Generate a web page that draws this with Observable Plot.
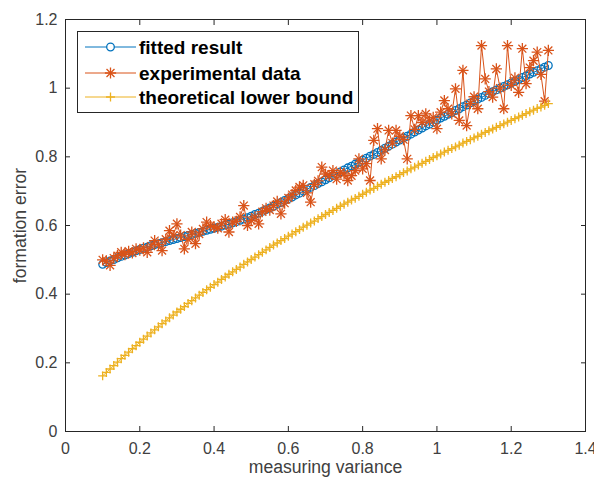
<!DOCTYPE html>
<html>
<head>
<meta charset="utf-8">
<script src="https://cdn.jsdelivr.net/npm/d3@7"></script>
<script src="https://cdn.jsdelivr.net/npm/@observablehq/plot@0.6"></script>
<style>
  body { margin: 0; background: #fff; }
  #chart { width: 594px; height: 484px; }
</style>
</head>
<body>
<div id="chart"></div>
<script>
// ---- data ----
const xValues = [
  0.10,0.11,0.12,0.13,0.14,0.15,0.16,0.17,0.18,0.19,
  0.20,0.21,0.22,0.23,0.24,0.25,0.26,0.27,0.28,0.29,
  0.30,0.31,0.32,0.33,0.34,0.35,0.36,0.37,0.38,0.39,
  0.40,0.41,0.42,0.43,0.44,0.45,0.46,0.47,0.48,0.49,
  0.50,0.51,0.52,0.53,0.54,0.55,0.56,0.57,0.58,0.59,
  0.60,0.61,0.62,0.63,0.64,0.65,0.66,0.67,0.68,0.69,
  0.70,0.71,0.72,0.73,0.74,0.75,0.76,0.77,0.78,0.79,
  0.80,0.81,0.82,0.83,0.84,0.85,0.86,0.87,0.88,0.89,
  0.90,0.91,0.92,0.93,0.94,0.95,0.96,0.97,0.98,0.99,
  1.00,1.01,1.02,1.03,1.04,1.05,1.06,1.07,1.08,1.09,
  1.10,1.11,1.12,1.13,1.14,1.15,1.16,1.17,1.18,1.19,
  1.20,1.21,1.22,1.23,1.24,1.25,1.26,1.27,1.28,1.29,
  1.30
];
const fittedResult = [
  0.487,0.492,0.497,0.501,0.506,0.510,0.514,0.518,0.522,0.526,
  0.530,0.534,0.537,0.541,0.544,0.547,0.550,0.553,0.556,0.559,
  0.562,0.565,0.568,0.571,0.574,0.577,0.580,0.583,0.586,0.589,
  0.592,0.595,0.598,0.601,0.604,0.608,0.611,0.615,0.619,0.623,
  0.627,0.632,0.636,0.641,0.646,0.651,0.656,0.662,0.667,0.673,
  0.678,0.683,0.689,0.694,0.700,0.705,0.711,0.716,0.722,0.727,
  0.733,0.739,0.745,0.750,0.756,0.762,0.768,0.773,0.779,0.784,
  0.790,0.796,0.802,0.807,0.813,0.819,0.825,0.831,0.837,0.843,
  0.849,0.855,0.860,0.866,0.872,0.878,0.884,0.890,0.895,0.901,
  0.907,0.913,0.918,0.924,0.929,0.935,0.940,0.946,0.951,0.957,
  0.962,0.968,0.973,0.979,0.984,0.990,0.995,1.000,1.005,1.010,
  1.015,1.020,1.025,1.031,1.036,1.041,1.046,1.051,1.056,1.061,
  1.066
];
const experimentalData = [
  0.500,0.497,0.484,0.505,0.512,0.522,0.515,0.525,0.520,0.532,
  0.528,0.535,0.522,0.540,0.556,0.545,0.527,0.560,0.585,0.570,
  0.605,0.572,0.532,0.560,0.581,0.547,0.575,0.590,0.610,0.600,
  0.595,0.592,0.605,0.617,0.581,0.610,0.612,0.625,0.658,0.600,
  0.615,0.625,0.605,0.640,0.650,0.645,0.658,0.670,0.634,0.665,
  0.680,0.690,0.702,0.712,0.717,0.695,0.668,0.720,0.730,0.770,
  0.750,0.745,0.760,0.735,0.755,0.750,0.731,0.745,0.760,0.794,
  0.765,0.780,0.731,0.848,0.882,0.794,0.820,0.877,0.840,0.877,
  0.860,0.850,0.794,0.920,0.880,0.920,0.900,0.925,0.905,0.915,
  0.882,0.930,0.964,0.940,0.925,0.998,0.906,1.052,0.891,0.955,
  0.975,0.940,1.124,1.027,0.990,0.974,1.056,1.000,0.940,1.124,
  1.008,1.030,0.988,1.115,1.013,1.060,1.080,1.105,1.040,0.962,
  1.110
];
const lowerBound = [
  0.162,0.172,0.182,0.192,0.202,0.212,0.222,0.231,0.241,0.250,
  0.260,0.269,0.278,0.287,0.296,0.305,0.314,0.322,0.331,0.339,
  0.348,0.356,0.364,0.373,0.381,0.389,0.397,0.405,0.413,0.420,
  0.428,0.435,0.443,0.450,0.458,0.465,0.472,0.479,0.487,0.494,
  0.501,0.508,0.515,0.522,0.529,0.536,0.543,0.549,0.556,0.562,
  0.569,0.575,0.582,0.588,0.595,0.601,0.607,0.613,0.620,0.626,
  0.632,0.638,0.644,0.650,0.656,0.662,0.668,0.674,0.679,0.685,
  0.691,0.697,0.703,0.708,0.714,0.720,0.726,0.731,0.737,0.742,
  0.748,0.754,0.759,0.765,0.770,0.776,0.781,0.787,0.792,0.798,
  0.803,0.808,0.814,0.819,0.824,0.829,0.834,0.840,0.845,0.850,
  0.855,0.860,0.866,0.871,0.876,0.881,0.886,0.891,0.896,0.901,
  0.906,0.911,0.916,0.921,0.926,0.931,0.936,0.941,0.945,0.950,
  0.955
];
const seriesNames = ["fitted result", "experimental data", "theoretical lower bound"];
const xTicks = [0, 0.2, 0.4, 0.6, 0.8, 1, 1.2, 1.4];
const xTickLabels = ["0", "0.2", "0.4", "0.6", "0.8", "1", "1.2", "1.4"];
const yTicks = [0, 0.2, 0.4, 0.6, 0.8, 1, 1.2];
const yTickLabels = ["0", "0.2", "0.4", "0.6", "0.8", "1", "1.2"];
const xLabel = "measuring variance";
const yLabel = "formation error";

// ---- styles ----
const colors = ["#0072BD", "#D95319", "#EDB120"];
const axisColor = "#262626";
const textColor = "#404040";
const font = "'Liberation Sans', Arial, Helvetica, sans-serif";
const rFit = 3.8, rExp = 3.7, rLow = 3.0, markerStroke = 1.3;

const data = xValues.map((x, i) => ({
  x, fit: fittedResult[i], exp: experimentalData[i], low: lowerBound[i]
}));

const plot = Plot.plot({
  width: 594,
  height: 484,
  marginLeft: 65,
  marginRight: 9,
  marginTop: 19,
  marginBottom: 53,
  style: { fontFamily: font, fontSize: "16px", color: textColor, background: "#fff" },
  x: { domain: [0, 1.4] },
  y: { domain: [0, 1.2] },
  marks: [
    // series 1: fitted result
    Plot.line(data, { x: "x", y: "fit", stroke: colors[0], strokeWidth: 1 }),
    Plot.dot(data, { x: "x", y: "fit", symbol: "circle", r: rFit, stroke: colors[0], fill: "none", strokeWidth: markerStroke }),
    // series 2: experimental data (asterisk = plus + times)
    Plot.line(data, { x: "x", y: "exp", stroke: colors[1], strokeWidth: 1 }),
    Plot.dot(data, { x: "x", y: "exp", symbol: "plus", r: rExp, stroke: colors[1], strokeWidth: markerStroke }),
    Plot.dot(data, { x: "x", y: "exp", symbol: "times", r: rExp, stroke: colors[1], strokeWidth: markerStroke }),
    // series 3: theoretical lower bound
    Plot.line(data, { x: "x", y: "low", stroke: colors[2], strokeWidth: 1 }),
    Plot.dot(data, { x: "x", y: "low", symbol: "plus", r: rLow, stroke: colors[2], strokeWidth: markerStroke }),
    // box
    Plot.frame({ stroke: axisColor, strokeWidth: 1 }),
    // inward ticks on all four sides
    Plot.axisX(xTicks, { anchor: "bottom", tickSize: -5, fill: "none", label: null, stroke: axisColor }),
    Plot.axisX(xTicks, { anchor: "top", tickSize: -5, fill: "none", label: null, stroke: axisColor }),
    Plot.axisY(yTicks, { anchor: "left", tickSize: -5, fill: "none", label: null, stroke: axisColor }),
    Plot.axisY(yTicks, { anchor: "right", tickSize: -5, fill: "none", label: null, stroke: axisColor }),
    // tick labels and axis titles
    Plot.axisX(xTicks, {
      anchor: "bottom", tickSize: 0, tickPadding: 11, fontSize: 16,
      tickFormat: d => xTickLabels[xTicks.indexOf(d)],
      label: xLabel, labelAnchor: "center", labelArrow: "none", labelOffset: 41
    }),
    Plot.axisY(yTicks, {
      anchor: "left", tickSize: 0, tickPadding: 8, fontSize: 16,
      tickFormat: d => yTickLabels[yTicks.indexOf(d)],
      label: yLabel, labelAnchor: "center", labelArrow: "none", labelOffset: 52
    })
  ]
});

// larger axis titles
d3.select(plot).selectAll("g[aria-label='x-axis label'] text, g[aria-label='y-axis label'] text")
  .attr("font-size", 17.6);

// ---- legend (inside the axes, top-left) ----
const svg = d3.select(plot);
const lg = svg.append("g").attr("aria-label", "legend").attr("text-anchor", "start");
const box = { x: 77, y: 31, w: 281, h: 81 };
const rowY = [47, 73, 97];
const lineX0 = 85, lineX1 = 136, markX = 110.5, textX = 139;
lg.append("rect").attr("x", box.x + 0.5).attr("y", box.y + 0.5)
  .attr("width", box.w).attr("height", box.h)
  .attr("fill", "#fff").attr("stroke", axisColor).attr("stroke-width", 1);
const symbolSets = [
  [[d3.symbolCircle, Math.PI * rFit * rFit]],
  [[d3.symbolPlus, Math.PI * rExp * rExp], [d3.symbolTimes, Math.PI * rExp * rExp]],
  [[d3.symbolPlus, Math.PI * rLow * rLow]]
];
seriesNames.forEach((name, i) => {
  const g = lg.append("g");
  g.append("line").attr("x1", lineX0).attr("x2", lineX1)
    .attr("y1", rowY[i]).attr("y2", rowY[i])
    .attr("stroke", colors[i]).attr("stroke-width", 1);
  symbolSets[i].forEach(([type, size]) => {
    g.append("path").attr("d", d3.symbol(type, size)())
      .attr("transform", `translate(${markX},${rowY[i]})`)
      .attr("fill", i === 0 ? "#fff" : "none")
      .attr("stroke", colors[i]).attr("stroke-width", markerStroke);
  });
  g.append("text").attr("x", textX).attr("y", rowY[i])
    .attr("dy", "0.35em").attr("text-anchor", "start")
    .attr("font-family", font).attr("font-size", 19).attr("font-weight", "bold")
    .attr("fill", "#000").text(name);
});

document.getElementById("chart").appendChild(plot);
</script>
</body>
</html>
